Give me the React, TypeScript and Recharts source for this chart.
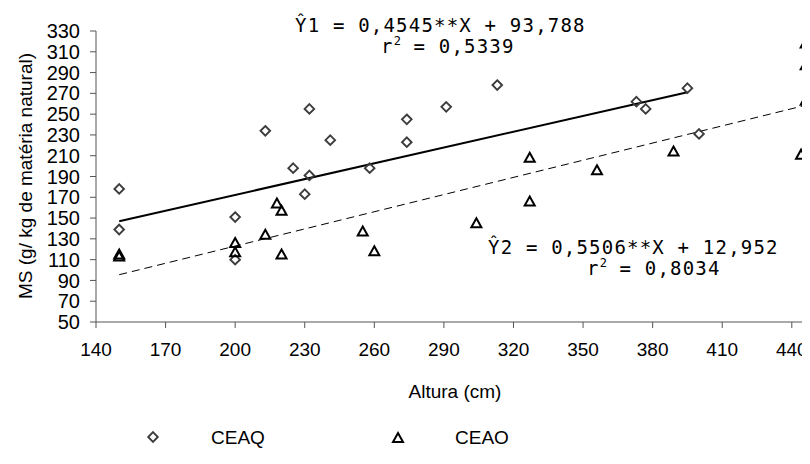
import { ScatterChart, Scatter, XAxis, YAxis } from 'recharts';

// CEAQ (diamonds)
const ceaqAltura = [150, 150, 200, 200, 213, 225, 230, 232, 232, 241, 258, 274, 274, 291, 313, 373, 377, 395, 400];
const ceaqMS = [178, 139, 151, 110, 234, 198, 173, 191, 255, 225, 198, 245, 223, 257, 278, 262, 255, 275, 231];

// CEAO (triangles)
const ceaoAltura = [150, 150, 200, 200, 213, 218, 220, 220, 255, 260, 304, 327, 327, 356, 389, 444, 446, 446, 446];
const ceaoMS = [113, 115, 126, 117, 134, 164, 157, 115, 137, 118, 145, 166, 208, 196, 214, 211, 263, 297, 318];

// fitted lines, end points as drawn
const fit1Altura = [150, 395];
const fit1MS = [147, 271];
const fit2Altura = [150, 445];
const fit2MS = [95.5, 258];

const xTicks = [140, 170, 200, 230, 260, 290, 320, 350, 380, 410, 440];
const yTicks = [50, 70, 90, 110, 130, 150, 170, 190, 210, 230, 250, 270, 290, 310, 330];

const zip = (xs: number[], ys: number[]) => xs.map((x, i) => ({ x, y: ys[i] }));

const ceaq = zip(ceaqAltura, ceaqMS);
const ceao = zip(ceaoAltura, ceaoMS);
const fit1 = zip(fit1Altura, fit1MS);
const fit2 = zip(fit2Altura, fit2MS);

const Diamond = (props: any) => {
  const { cx, cy } = props;
  const r = 4.8;
  return (
    <path
      d={`M${cx},${cy - r}L${cx + r},${cy}L${cx},${cy + r}L${cx - r},${cy}Z`}
      fill="none"
      stroke="#3c3c3c"
      strokeWidth={1.9}
    />
  );
};

const Triangle = (props: any) => {
  const { cx, cy } = props;
  return (
    <path
      d={`M${cx},${cy - 5}L${cx + 5},${cy + 4}L${cx - 5},${cy + 4}Z`}
      fill="none"
      stroke="#000"
      strokeWidth={2}
    />
  );
};

const NoDot = () => <g />;

const sans = '"Liberation Sans", Arial, sans-serif';
const mono = '"DejaVu Sans Mono", monospace';

const RSquared = ({ x, y, value }: { x: number; y: number; value: string }) => (
  <text x={x} y={y}>
    r
    <tspan fontSize={12} dy={-8} letterSpacing={0}>2</tspan>
    <tspan dy={8}>{` = ${value}`}</tspan>
  </text>
);

export default function App() {
  return (
    <div style={{ margin: -8, width: 810, height: 464, overflow: 'hidden', position: 'relative', background: '#fff' }}>
      <ScatterChart width={830} height={464} margin={{ top: 31, right: 15, bottom: 62, left: 16 }}>
        <XAxis
          type="number"
          dataKey="x"
          domain={[140, 450]}
          ticks={xTicks}
          interval={0}
          height={80}
          tickSize={6}
          tickMargin={15}
          stroke="#555"
          tick={{ fontSize: 19, fill: '#000', fontFamily: sans }}
        />
        <YAxis
          type="number"
          dataKey="y"
          domain={[50, 330]}
          ticks={yTicks}
          interval={0}
          width={80}
          tickSize={6}
          tickMargin={10}
          stroke="#555"
          tick={{ fontSize: 20, fill: '#000', fontFamily: sans }}
        />
        <Scatter data={fit1} line={{ stroke: '#000', strokeWidth: 2 }} shape={NoDot} isAnimationActive={false} />
        <Scatter data={fit2} line={{ stroke: '#000', strokeWidth: 1, strokeDasharray: '8 5' }} shape={NoDot} isAnimationActive={false} />
        <Scatter data={ceaq} shape={Diamond} isAnimationActive={false} />
        <Scatter data={ceao} shape={Triangle} isAnimationActive={false} />
      </ScatterChart>
      <svg width={810} height={464} style={{ position: 'absolute', left: 0, top: 0, pointerEvents: 'none' }}>
        <text x={25} y={176} transform="rotate(-90 25 176)" textAnchor="middle" dominantBaseline="central" fontSize={19} fontFamily={sans}>
          MS (g/ kg de matéria natural)
        </text>
        <text x={455} y={391} textAnchor="middle" dominantBaseline="central" fontSize={19} fontFamily={sans}>
          Altura (cm)
        </text>
        <g fontFamily={mono} fontSize={19} letterSpacing={1.2} fill="#000">
          <text x={295} y={32}>Ŷ1 = 0,4545**X + 93,788</text>
          <RSquared x={381} y={53} value="0,5339" />
          <text x={488} y={254}>Ŷ2 = 0,5506**X + 12,952</text>
          <RSquared x={587} y={275} value="0,8034" />
        </g>
        <g fontFamily={sans} fontSize={19}>
          <Diamond cx={153} cy={437} />
          <text x={211} y={437} dominantBaseline="central">CEAQ</text>
          <Triangle cx={398} cy={438} />
          <text x={455} y={437} dominantBaseline="central">CEAO</text>
        </g>
      </svg>
    </div>
  );
}
